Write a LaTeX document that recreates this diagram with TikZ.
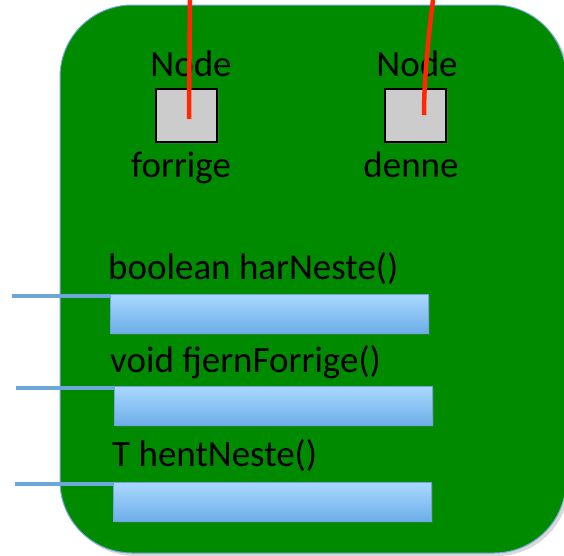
\documentclass[tikz,border=0pt]{standalone}
\usepackage{fontspec}
\setmainfont{Carlito}
\usetikzlibrary{shadows}
\definecolor{objgreen}{RGB}{0,138,0}
\definecolor{rimblue}{RGB}{120,170,220}
\definecolor{barblue}{RGB}{108,166,218}
\definecolor{bartop}{RGB}{170,216,255}
\definecolor{barbot}{RGB}{108,174,232}
\definecolor{refred}{RGB}{255,40,0}
\definecolor{boxgray}{RGB}{204,204,204}

\begin{document}
\begin{tikzpicture}[x=1pt,y=-1pt,
  lbl/.style={font=\fontsize{37}{44}\selectfont, anchor=base, inner sep=0pt},
  objbox/.style={draw=rimblue, line width=1pt, fill=objgreen, rounded corners=72pt,
    minimum width=506pt, minimum height=548pt, inner sep=0pt,
    drop shadow={opacity=0.3, shadow xshift=3pt, shadow yshift=-3pt}},
  refbox/.style={draw=black, line width=1.6pt, fill=boxgray, minimum width=61pt,
    minimum height=53pt, inner sep=0pt,
    drop shadow={opacity=0.3, shadow xshift=1.5pt, shadow yshift=-1.5pt}},
  method/.style={draw=barblue, line width=1pt, top color=bartop, bottom color=barbot,
    minimum width=318pt, minimum height=39pt, inner sep=0pt, anchor=north west,
    drop shadow={opacity=0.3, shadow xshift=1.5pt, shadow yshift=-1.5pt}},
  ptr/.style={draw=refred, line width=4.5pt},
  link/.style={draw=barblue, line width=4pt}]
  \useasboundingbox (0,0) rectangle (564,555);
  \node[objbox] (iter) at (313,279) {};

  \node[lbl] (forrigeType) at (191,76) {Node};
  \node[lbl] (denneType) at (417,76) {Node};
  \node[refbox] (forrige) at (186.5,115.5) {};
  \node[refbox] (denne) at (415.5,115.5) {};
  \node[lbl] (forrigeName) at (181,177) {forrige};
  \node[lbl] (denneName) at (411,177) {denne};

  \coordinate (forrigeTop) at (190,0);
  \coordinate (forrigeEnd) at (189,119);
  \coordinate (denneTop) at (433,0);
  \coordinate (denneEnd) at (424,115);
  \draw[ptr] (forrigeTop) -- (forrigeEnd);
  \draw[ptr] (denneTop) .. controls (428,40) and (424,80) .. (denneEnd);

  \node[lbl, anchor=base west] (harNesteLbl) at (108,279) {boolean harNeste()};
  \node[lbl, anchor=base west] (fjernLbl) at (110,372) {void fjernForrige()};
  \node[lbl, anchor=base west] (hentLbl) at (112,466) {T hentNeste()};

  \node[method] (harNeste) at (110,294) {};
  \node[method] (fjern) at (114,386) {};
  \node[method] (hent) at (113,482) {};

  \coordinate (harNesteIn) at (12,296);
  \coordinate (fjernIn) at (16,388);
  \coordinate (hentIn) at (15,484);
  \draw[link] (harNesteIn) -- ([yshift=-2pt]harNeste.north west);
  \draw[link] (fjernIn) -- ([yshift=-2pt]fjern.north west);
  \draw[link] (hentIn) -- ([yshift=-2pt]hent.north west);
\end{tikzpicture}
\end{document}
